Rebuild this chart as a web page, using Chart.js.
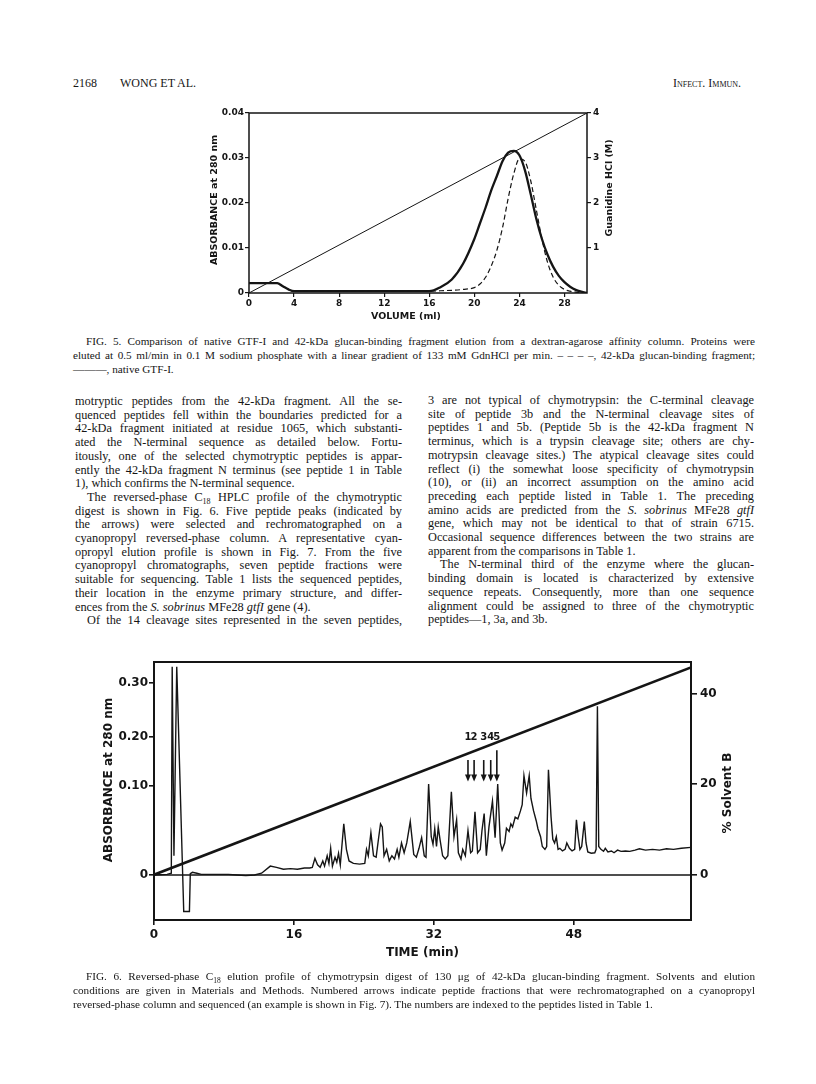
<!DOCTYPE html>
<html lang="en">
<head>
  <meta charset="UTF-8" />
  <title>Wong et al. 2168 - Fig. 5 and Fig. 6</title>
  <script src="https://cdn.jsdelivr.net/npm/chart.js"></script>
  <style>
    body { margin: 0; background: #fff; }
    .page {
      position: relative; width: 816px; height: 1084px; overflow: hidden;
      color: #151515; font-family: "Liberation Serif", "DejaVu Serif", serif;
    }
    .ln { position: absolute; white-space: nowrap; font-size: 12.3px; line-height: 14px; }
    .cap { font-size: 11.2px; line-height: 14px; }
    .hdr { position: absolute; white-space: nowrap; font-size: 12px; line-height: 14px; }
    canvas { position: absolute; }
  </style>
</head>
<body>
<div class="page" id="page">
  <div class="hdr" style="left:73px; top:76px;">2168</div>
  <div class="hdr" style="left:120px; top:76px;">WONG ET AL.</div>
  <div class="hdr" style="left:673px; top:76px; font-variant: small-caps;">Infect. Immun.</div>

  <canvas id="fig5" width="500" height="240" style="left:150px; top:90px;"></canvas>
  <canvas id="fig6" width="700" height="330" style="left:60px; top:640px;"></canvas>
</div>

<script>
  // ---------- Fig. 5: dextran-agarose affinity column ----------
  const volumeMl   = [0, 1, 2, 2.5, 3, 3.5, 4, 6, 8, 10, 12, 14, 16, 17, 18, 19, 20, 20.5, 21, 21.5, 22,
                      22.5, 23, 23.5, 24, 24.5, 25, 25.5, 26, 26.5, 27, 27.5, 28, 28.5, 29, 29.5, 30];
  const nativeGtf  = [0.0022, 0.0022, 0.0022, 0.0022, 0.0015, 0.0008, 0.0004, 0.0004, 0.0004, 0.0004, 0.0004,
                      0.0004, 0.0004, 0.0013, 0.003, 0.0065, 0.012, 0.0155, 0.019, 0.0228, 0.026,
                      0.0293, 0.0312, 0.0316, 0.0306, 0.0272, 0.022, 0.0165, 0.012, 0.0085, 0.0058,
                      0.0038, 0.0024, 0.0014, 0.0007, 0.0003, 0];
  const fragment42 = [0.0022, 0.0022, 0.0022, 0.0022, 0.0015, 0.0008, 0.0004, 0.0004, 0.0004, 0.0004, 0.0004,
                      0.0004, 0.0004, 0.0005, 0.0006, 0.0008, 0.0012, 0.002, 0.0035, 0.006, 0.0095,
                      0.0145, 0.021, 0.0265, 0.0298, 0.0292, 0.025, 0.0185, 0.012, 0.0068, 0.0035,
                      0.0017, 0.0008, 0.0004, 0.0002, 0.0001, 0];
  const gdnVolume  = [0, 30];
  const gdnMolar   = [0, 4];
  const fig5XTicks = [0, 4, 8, 12, 16, 20, 24, 28];
  const fig5YTicks = [0, 0.01, 0.02, 0.03, 0.04];
  const fig5RTicks = [1, 2, 3, 4];

  // ---------- Fig. 6: reversed-phase C18 profile ----------
  const timeMin = [0, 1.5, 1.98, 2.08, 2.28, 2.6, 3.4, 4.05, 4.15, 4.4, 4.9, 5.4, 7, 8.5, 9.5, 10.5, 11.5, 12.3,
    13.3, 14, 14.8, 15.6, 16.4, 17.2, 17.8, 18.1, 18.4, 18.7, 19.0, 19.3, 19.5, 19.8, 20.0, 20.2, 20.4, 20.7,
    20.9, 21.1, 21.3, 21.7, 22.0, 22.3, 22.8, 23.5, 24.1, 24.3, 24.5, 24.8, 25.1, 25.4, 25.7, 25.9, 26.1, 26.3,
    26.6, 26.9, 27.2, 27.5, 27.8, 28.0, 28.3, 28.6, 28.9, 29.3, 29.7, 30.0, 30.3, 30.6, 30.9, 31.1, 31.4, 31.7,
    31.9, 32.1, 32.3, 32.5, 32.7, 33.0, 33.3, 33.6, 34.0, 34.3, 34.6, 34.8, 35.1, 35.3, 35.6, 35.9, 36.2, 36.4,
    36.7, 37.0, 37.3, 37.5, 37.75, 38.0, 38.3, 38.7, 39.0, 39.3, 39.6, 39.8, 40.1, 40.3, 40.6, 40.8, 41.0, 41.3,
    41.6, 41.9, 42.1, 42.3, 42.6, 42.9, 43.1, 43.4, 43.7, 43.9, 44.2, 44.4, 44.7, 44.9, 45.1, 45.4, 45.6, 45.8,
    46.0, 46.2, 46.4, 46.7, 47.0, 47.2, 47.5, 47.8, 48.1, 48.3, 48.5, 48.7, 48.9, 49.2, 49.4, 49.6, 50.0, 50.4,
    50.55, 50.7, 50.85, 51.1, 51.4, 51.6, 51.9, 52.3, 52.6, 53.0, 53.4, 53.9, 54.4, 55.0, 55.5, 56.2, 57.0,
    57.8, 58.6, 59.4, 60.3, 61.4];
  const absorb = [0, 0.0007, 0.002, 0.33, 0.0216, 0.33, -0.041, -0.041, 0.0014, 0.003, 0.002, 0.0007, 0.0007,
    0.0007, 0, -0.0007, 0, 0.002, 0.010, 0.0086, 0.0065, 0.0072, 0.0065, 0.0079, 0.0079, 0.0086, 0.0187, 0.0115,
    0.0086, 0.0158, 0.010, 0.0216, 0.013, 0.030, 0.010, 0.020, 0.0144, 0.0244, 0.0115, 0.0575, 0.0288, 0.0158,
    0.013, 0.0122, 0.013, 0.0288, 0.0216, 0.0475, 0.0216, 0.020, 0.043, 0.0575, 0.054, 0.0216, 0.0288, 0.0158,
    0.0216, 0.018, 0.0288, 0.020, 0.036, 0.025, 0.036, 0.060, 0.023, 0.020, 0.030, 0.042, 0.0216, 0.020, 0.104,
    0.043, 0.0345, 0.052, 0.032, 0.054, 0.040, 0.0216, 0.018, 0.0216, 0.0935, 0.043, 0.062, 0.025, 0.018, 0.0288,
    0.0216, 0.050, 0.025, 0.027, 0.071, 0.025, 0.0288, 0.050, 0.069, 0.0216, 0.054, 0.083, 0.042, 0.104, 0.036,
    0.028, 0.036, 0.0525, 0.049, 0.0575, 0.054, 0.065, 0.063, 0.072, 0.079, 0.121, 0.092, 0.121, 0.086, 0.072,
    0.061, 0.052, 0.043, 0.032, 0.0288, 0.032, 0.133, 0.065, 0.040, 0.036, 0.043, 0.0288, 0.030, 0.027, 0.0288,
    0.036, 0.030, 0.027, 0.0288, 0.062, 0.043, 0.0288, 0.032, 0.060, 0.036, 0.026, 0.0245, 0.025, 0.0288, 0.257,
    0.032, 0.0288, 0.0266, 0.030, 0.026, 0.027, 0.025, 0.028, 0.0266, 0.027, 0.0266, 0.028, 0.0295, 0.028,
    0.0288, 0.028, 0.0295, 0.0288, 0.030, 0.031];
  const solventTime = [0, 61.4];
  const solventB    = [0, 45.8];
  const zeroTime    = [0, 61.4];
  const zeroAbs     = [0, 0];
  const arrowTimes  = [35.9, 36.6, 37.7, 38.5, 39.2];
  const arrowTopAbs = [0.153, 0.153, 0.153, 0.153, 0.173];
  const arrowTipAbs = [0.109, 0.109, 0.109, 0.109, 0.109];
  const arrowLabels = ['1', '2', '3', '4', '5'];
  const fig6XTicks = [0, 16, 32, 48];
  const fig6YTicks = [0, 0.1, 0.2, 0.3];
  const fig6RTicks = [0, 20, 40];

  // 左軸刻度在原圖中間距不均: [值, 軸高比例]
  const absStops = [[-0.0506, 0], [0, 0.1744], [0.1, 0.5194], [0.2, 0.7093], [0.3, 0.9186], [0.339, 1]];

  class PiecewiseScale extends Chart.LinearScale {
    getPixelForValue(value) {
      let i = 0;
      while (i < absStops.length - 2 && value > absStops[i + 1][0]) i++;
      const [v0, f0] = absStops[i], [v1, f1] = absStops[i + 1];
      const f = f0 + (value - v0) * (f1 - f0) / (v1 - v0);
      return this.bottom - f * (this.bottom - this.top);
    }
    getValueForPixel(pixel) {
      const f = (this.bottom - pixel) / (this.bottom - this.top);
      let i = 0;
      while (i < absStops.length - 2 && f > absStops[i + 1][1]) i++;
      const [v0, f0] = absStops[i], [v1, f1] = absStops[i + 1];
      return v0 + (f - f0) * (v1 - v0) / (f1 - f0);
    }
  }
  PiecewiseScale.id = 'piecewise';
  PiecewiseScale.defaults = Chart.LinearScale.defaults;
  Chart.register(PiecewiseScale);

  const INK = '#151515';
  const toXY = (xs, ys) => xs.map((x, i) => ({ x: x, y: ys[i] }));
  const absLabel = v => (v === 0 ? '0' : v.toFixed(2));

  // 外框
  const framePlugin = {
    id: 'frame',
    afterDraw(chart, args, opts) {
      const a = chart.chartArea, ctx = chart.ctx;
      ctx.save();
      ctx.strokeStyle = INK;
      ctx.lineWidth = opts.width || 1.5;
      ctx.strokeRect(a.left, a.top, a.right - a.left, a.bottom - a.top);
      ctx.restore();
    }
  };

  // 軸標題 (right-hand title reads bottom-to-top like the left one)
  const titlesPlugin = {
    id: 'titles',
    afterDraw(chart, args, opts) {
      const a = chart.chartArea, ctx = chart.ctx;
      ctx.save();
      ctx.fillStyle = INK;
      ctx.font = opts.font;
      ctx.textAlign = 'center';
      ctx.textBaseline = 'middle';
      ctx.fillText(opts.x, (a.left + a.right) / 2 + (opts.xShift || 0), a.bottom + opts.xGap);
      [[opts.left, a.left - opts.leftGap, opts.leftY], [opts.right, a.right + opts.rightGap, opts.rightY]]
        .forEach(([txt, px, py]) => {
          if (!txt) return;
          ctx.save();
          ctx.translate(px, py);
          ctx.rotate(-Math.PI / 2);
          ctx.fillText(txt, 0, 0);
          ctx.restore();
        });
      ctx.restore();
    }
  };

  // 箭頭 1-5
  const arrowsPlugin = {
    id: 'arrows',
    afterDatasetsDraw(chart) {
      const xs = chart.scales.x, ys = chart.scales.y, ctx = chart.ctx;
      ctx.save();
      ctx.strokeStyle = INK;
      ctx.fillStyle = INK;
      ctx.lineWidth = 1.6;
      arrowTimes.forEach((t, i) => {
        const x = xs.getPixelForValue(t);
        const top = ys.getPixelForValue(arrowTopAbs[i]);
        const tip = ys.getPixelForValue(arrowTipAbs[i]);
        ctx.beginPath();
        ctx.moveTo(x, top);
        ctx.lineTo(x, tip - 6);
        ctx.stroke();
        ctx.beginPath();
        ctx.moveTo(x - 3, tip - 7);
        ctx.lineTo(x + 3, tip - 7);
        ctx.lineTo(x, tip);
        ctx.closePath();
        ctx.fill();
      });
      ctx.font = 'bold 10px "DejaVu Sans"';
      ctx.textAlign = 'center';
      ctx.textBaseline = 'middle';
      arrowLabels.forEach((lab, i) => {
        ctx.fillText(lab, xs.getPixelForValue(arrowTimes[i]), ys.getPixelForValue(0.2));
      });
      ctx.restore();
    }
  };

  function axis(opts) {
    return {
      type: opts.type || 'linear',
      position: opts.position,
      min: opts.min,
      max: opts.max,
      afterBuildTicks: s => { s.ticks = opts.ticks.map(v => ({ value: v })); },
      afterFit: s => {
        if (opts.width !== undefined) s.width = opts.width;
        if (opts.height !== undefined) s.height = opts.height;
      },
      grid: { drawOnChartArea: false, drawTicks: true, tickLength: opts.tickLength, color: INK, lineWidth: opts.tickWidth },
      border: { display: false },
      ticks: {
        color: INK,
        font: opts.font,
        padding: opts.padding,
        maxRotation: 0,
        autoSkip: false,
        callback: opts.format || (v => String(v))
      }
    };
  }

  // ---------- 圖 5 ----------
  const f5Font = { family: 'DejaVu Sans', weight: 'bold', size: 9 };
  new Chart(document.getElementById('fig5'), {
    type: 'scatter',
    data: {
      datasets: [
        { data: toXY(volumeMl, fragment42), showLine: true, pointRadius: 0, borderColor: INK,
          borderWidth: 1.2, borderDash: [5, 3], cubicInterpolationMode: 'monotone', yAxisID: 'y' },
        { data: toXY(volumeMl, nativeGtf), showLine: true, pointRadius: 0, borderColor: INK,
          borderWidth: 2.3, cubicInterpolationMode: 'monotone', yAxisID: 'y' },
        { data: toXY(gdnVolume, gdnMolar), showLine: true, pointRadius: 0, borderColor: INK,
          borderWidth: 1, yAxisID: 'yR' }
      ]
    },
    options: {
      responsive: false,
      animation: false,
      devicePixelRatio: 1,
      layout: { padding: { top: 23, left: 0, right: 0, bottom: 0 } },
      plugins: {
        legend: { display: false },
        tooltip: { enabled: false },
        frame: { width: 1.5 },
        titles: {
          font: 'bold 9.5px "DejaVu Sans"',
          x: 'VOLUME (ml)', xGap: 24, xShift: -12,
          left: 'ABSORBANCE at 280 nm', leftGap: 34, leftY: 110,
          right: 'Guanidine HCl (M)', rightGap: 23, rightY: 98
        }
      },
      scales: {
        x: axis({ position: 'bottom', min: 0, max: 30, ticks: fig5XTicks, height: 37, tickLength: 4,
                  tickWidth: 1.2, font: f5Font, padding: 1 }),
        y: axis({ position: 'left', min: 0, max: 0.04, ticks: fig5YTicks, width: 99, tickLength: 4,
                  tickWidth: 1.2, font: f5Font, padding: 1, format: absLabel }),
        yR: axis({ position: 'right', min: 0, max: 4, ticks: fig5RTicks, width: 63, tickLength: 4,
                   tickWidth: 1.2, font: f5Font, padding: 2 })
      }
    },
    plugins: [framePlugin, titlesPlugin]
  });

  // ---------- 圖 6 ----------
  const f6Font = { family: 'DejaVu Sans', weight: 'bold', size: 12 };
  new Chart(document.getElementById('fig6'), {
    type: 'scatter',
    data: {
      datasets: [
        { data: toXY(timeMin, absorb), showLine: true, pointRadius: 0, borderColor: INK,
          borderWidth: 1.4, tension: 0, yAxisID: 'y' },
        { data: toXY(zeroTime, zeroAbs), showLine: true, pointRadius: 0, borderColor: INK,
          borderWidth: 1.4, yAxisID: 'y' },
        { data: toXY(solventTime, solventB), showLine: true, pointRadius: 0, borderColor: INK,
          borderWidth: 2.6, yAxisID: 'yR' }
      ]
    },
    options: {
      responsive: false,
      animation: false,
      devicePixelRatio: 1,
      layout: { padding: { top: 22, left: 0, right: 0, bottom: 0 } },
      plugins: {
        legend: { display: false },
        tooltip: { enabled: false },
        frame: { width: 2 },
        titles: {
          font: 'bold 12px "DejaVu Sans"',
          x: 'TIME (min)', xGap: 33, xShift: 0,
          left: 'ABSORBANCE at 280 nm', leftGap: 45, leftY: 140,
          right: '% Solvent B', rightGap: 37, rightY: 153
        }
      },
      scales: {
        x: axis({ position: 'bottom', min: 0, max: 61.4, ticks: fig6XTicks, height: 50, tickLength: 5,
                  tickWidth: 1.6, font: f6Font, padding: 3 }),
        y: axis({ type: 'piecewise', position: 'left', min: -0.0506, max: 0.339, ticks: fig6YTicks, width: 94,
                  tickLength: 5, tickWidth: 1.6, font: f6Font, padding: 1, format: absLabel }),
        yR: axis({ position: 'right', min: -10, max: 47, ticks: fig6RTicks, width: 69, tickLength: 6,
                   tickWidth: 1.6, font: f6Font, padding: 3 })
      }
    },
    plugins: [framePlugin, titlesPlugin, arrowsPlugin]
  });

  // ---------- 本文 ----------
  const page = document.getElementById('page');
  function placeLine(html, x, yMid, width, justify, cls) {
    const d = document.createElement('div');
    d.className = 'ln' + (cls ? ' ' + cls : '');
    d.style.left = x + 'px';
    d.style.top = (yMid - 7) + 'px';
    const s = document.createElement('span');
    s.innerHTML = html;
    d.appendChild(s);
    page.appendChild(d);
    if (justify) {
      const spaces = (s.textContent.match(/ /g) || []).length;
      const w = s.getBoundingClientRect().width;
      if (spaces) d.style.wordSpacing = ((width - w) / spaces) + 'px';
    }
  }

  const cap5 = [
    ['FIG. 5. Comparison of native GTF-I and 42-kDa glucan-binding fragment elution from a dextran-agarose affinity column. Proteins were', 86, true],
    ['eluted at 0.5 ml/min in 0.1 M sodium phosphate with a linear gradient of 133 mM GdnHCl per min. – – – –, 42-kDa glucan-binding fragment;', 73, true],
    ['———, native GTF-I.', 73, false]
  ];
  cap5.forEach((c, i) => placeLine(c[0], c[1], 341 + 13.8 * i, 755 - c[1], c[2], 'cap'));

  const leftCol = [
    ['motryptic peptides from the 42-kDa fragment. All the se-', 0, true],
    ['quenced peptides fell within the boundaries predicted for a', 0, true],
    ['42-kDa fragment initiated at residue 1065, which substanti-', 0, true],
    ['ated the N-terminal sequence as detailed below. Fortu-', 0, true],
    ['itously, one of the selected chymotryptic peptides is appar-', 0, true],
    ['ently the 42-kDa fragment N terminus (see peptide 1 in Table', 0, true],
    ['1), which confirms the N-terminal sequence.', 0, false],
    ['The reversed-phase C<sub style="font-size:8px">18</sub> HPLC profile of the chymotryptic', 12, true],
    ['digest is shown in Fig. 6. Five peptide peaks (indicated by', 0, true],
    ['the arrows) were selected and rechromatographed on a', 0, true],
    ['cyanopropyl reversed-phase column. A representative cyan-', 0, true],
    ['opropyl elution profile is shown in Fig. 7. From the five', 0, true],
    ['cyanopropyl chromatographs, seven peptide fractions were', 0, true],
    ['suitable for sequencing. Table 1 lists the sequenced peptides,', 0, true],
    ['their location in the enzyme primary structure, and differ-', 0, true],
    ['ences from the <i>S. sobrinus</i> MFe28 <i>gtfI</i> gene (4).', 0, false],
    ['Of the 14 cleavage sites represented in the seven peptides,', 12, true]
  ];
  const rightCol = [
    ['3 are not typical of chymotrypsin: the C-terminal cleavage', 0, true],
    ['site of peptide 3b and the N-terminal cleavage sites of', 0, true],
    ['peptides 1 and 5b. (Peptide 5b is the 42-kDa fragment N', 0, true],
    ['terminus, which is a trypsin cleavage site; others are chy-', 0, true],
    ['motrypsin cleavage sites.) The atypical cleavage sites could', 0, true],
    ['reflect (i) the somewhat loose specificity of chymotrypsin', 0, true],
    ['(10), or (ii) an incorrect assumption on the amino acid', 0, true],
    ['preceding each peptide listed in Table 1. The preceding', 0, true],
    ['amino acids are predicted from the <i>S. sobrinus</i> MFe28 <i>gtfI</i>', 0, true],
    ['gene, which may not be identical to that of strain 6715.', 0, true],
    ['Occasional sequence differences between the two strains are', 0, true],
    ['apparent from the comparisons in Table 1.', 0, false],
    ['The N-terminal third of the enzyme where the glucan-', 12, true],
    ['binding domain is located is characterized by extensive', 0, true],
    ['sequence repeats. Consequently, more than one sequence', 0, true],
    ['alignment could be assigned to three of the chymotryptic', 0, true],
    ['peptides—1, 3a, and 3b.', 0, false]
  ];
  leftCol.forEach((c, i) => placeLine(c[0], 75 + c[1], 401 + 13.7 * i, 327 - c[1], c[2]));
  rightCol.forEach((c, i) => placeLine(c[0], 428 + c[1], 400 + 13.7 * i, 326 - c[1], c[2]));

  const cap6 = [
    ['FIG. 6. Reversed-phase C<sub style="font-size:7.5px">18</sub> elution profile of chymotrypsin digest of 130 μg of 42-kDa glucan-binding fragment. Solvents and elution', 86, true],
    ['conditions are given in Materials and Methods. Numbered arrows indicate peptide fractions that were rechromatographed on a cyanopropyl', 73, true],
    ['reversed-phase column and sequenced (an example is shown in Fig. 7). The numbers are indexed to the peptides listed in Table 1.', 73, false]
  ];
  cap6.forEach((c, i) => placeLine(c[0], c[1], 976 + 13.8 * i, 755 - c[1], c[2], 'cap'));
</script>
</body>
</html>
